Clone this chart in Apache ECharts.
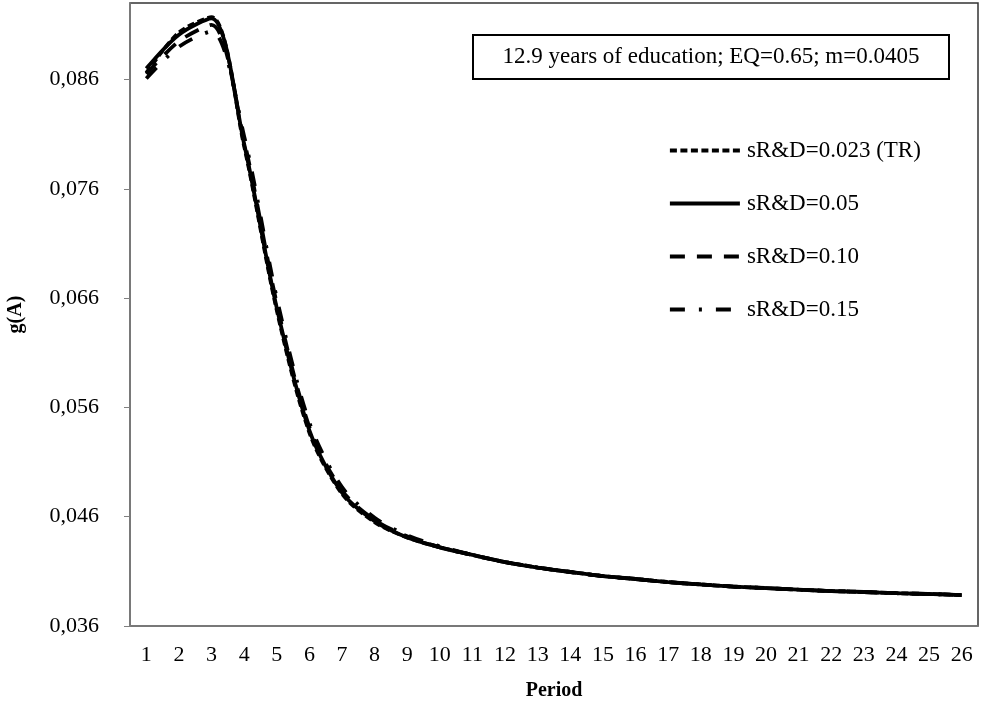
<!DOCTYPE html>
<html>
<head>
<meta charset="utf-8">
<script src="https://cdn.jsdelivr.net/npm/echarts@6/dist/echarts.min.js"></script>
<style>
html,body{margin:0;padding:0;background:#fff}
#main{width:983px;height:703px}
</style>
</head>
<body>
<div id="main"></div>
<script>
// periods and tick labels
var periods=[];
for(var i=1;i<=26;i++) periods.push(String(i));
var yTicks=[0.036,0.046,0.056,0.066,0.076,0.086];

// g(A) per period
var sRD023=[0.0866,0.0903,0.0917,0.0799,0.0649,0.0537,0.0481,0.0455,0.0441,0.0432,0.0425,0.04185,0.04135,0.04094,0.04057,0.0403,0.04002,0.0398,0.03961,0.03947,0.03932,0.0392,0.03911,0.0390,0.03893,0.03883];
var sRD05=[0.0870,0.0901,0.0916,0.0801,0.0651,0.0539,0.0482,0.0456,0.0441,0.0432,0.0425,0.04185,0.04135,0.04094,0.04057,0.0403,0.04002,0.0398,0.03961,0.03947,0.03932,0.0392,0.03911,0.0390,0.03893,0.03883];
var sRD10=[0.0865,0.0895,0.0910,0.0804,0.0655,0.0542,0.0484,0.0457,0.0442,0.0432,0.0425,0.04185,0.04135,0.04094,0.04057,0.0403,0.04002,0.0398,0.03961,0.03947,0.03932,0.0392,0.03911,0.0390,0.03893,0.03883];
var sRD15=[0.0861,0.0890,0.0904,0.0808,0.0660,0.0546,0.0487,0.0459,0.0443,0.0433,0.0425,0.04185,0.04135,0.04094,0.04057,0.0403,0.04002,0.0398,0.03961,0.03947,0.03932,0.0392,0.03911,0.0390,0.03893,0.03883];

var font='"Liberation Serif","Times New Roman",serif';

function mkLine(name,data,type){
    return {
        name:name,
        type:'line',
        data:data,
        symbol:'none',
        smooth:0.3,
        lineStyle:{color:'#000',width:3.8,type:type},
        itemStyle:{color:'#000'}
    }
}

var myChart=echarts.init(document.getElementById('main'));
var option={
    animation:false,
    textStyle:{fontFamily:font},
    grid:{left:130,top:3,right:5,bottom:77,outerBoundsMode:'none',show:true,borderColor:'#333',borderWidth:1.5},
    legend:{
        orient:'vertical',
        left:668,top:139,padding:0,
        itemWidth:70,itemHeight:14,itemGap:30,
        itemStyle:{opacity:0},
        lineStyle:{width:3.8},
        textStyle:{fontFamily:font,fontSize:23,color:'#000',padding:[0,0,0,2]},
        data:['sR&D=0.023 (TR)','sR&D=0.05','sR&D=0.10','sR&D=0.15']
    },
    graphic:[{
        type:'group',left:472,top:34,
        children:[
            {type:'rect',shape:{x:0,y:0,width:476,height:44},style:{fill:'#fff',stroke:'#000',lineWidth:2}},
            {type:'text',x:238,y:22,style:{text:'12.9 years of education; EQ=0.65; m=0.0405',font:'23px '+font,fill:'#000',align:'center',verticalAlign:'middle'}}
        ]
    }],
    xAxis:{
        type:'category',
        data:periods,
        boundaryGap:true,
        name:'Period',
        nameLocation:'middle',
        nameGap:55,
        nameTextStyle:{fontFamily:font,fontSize:20,fontWeight:'bold',color:'#000'},
        axisLine:{lineStyle:{color:'#808080',width:1.5}},
        axisTick:{interval:0,length:6,lineStyle:{color:'#808080'}},
        axisLabel:{interval:0,margin:18,fontFamily:font,fontSize:22,color:'#000'}
    },
    yAxis:{
        type:'value',
        min:0.036,max:0.093,
        name:'g(A)',
        nameLocation:'middle',
        nameGap:104,
        nameTextStyle:{fontFamily:font,fontSize:20,fontWeight:'bold',color:'#000'},
        splitLine:{show:false},
        axisLine:{show:true,lineStyle:{color:'#808080',width:1.5}},
        axisTick:{show:true,length:6,customValues:yTicks,lineStyle:{color:'#808080'}},
        axisLabel:{margin:31,customValues:yTicks,fontFamily:font,fontSize:22,color:'#000',
            formatter:function(v){return v.toFixed(3).replace('.',',')}}
    },
    series:[
        mkLine('sR&D=0.023 (TR)',sRD023,[7,3.5]),
        mkLine('sR&D=0.05',sRD05,'solid'),
        mkLine('sR&D=0.10',sRD10,[15,12]),
        mkLine('sR&D=0.15',sRD15,[15,14,3,14])
    ]
};
myChart.setOption(option);
</script>
</body>
</html>
